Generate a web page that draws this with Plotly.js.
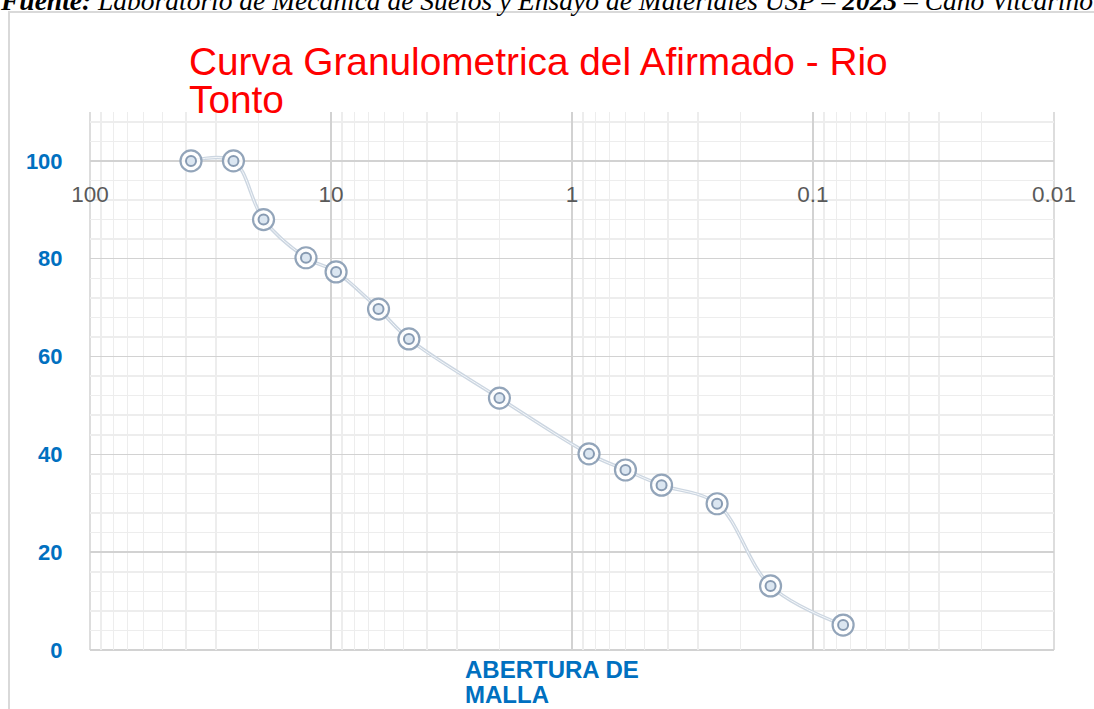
<!DOCTYPE html>
<html>
<head>
<meta charset="utf-8">
<script src="https://cdn.plot.ly/plotly-3.0.1.min.js"></script>
<style>
html,body{margin:0;padding:0;background:#fff;}
#chart{width:1094px;height:709px;}
</style>
</head>
<body>
<div id="chart"></div>
<script>
// Abertura de malla (mm) and % que pasa
const aberturaMM = [38.1, 25.4, 19.05, 12.7, 9.525, 6.35, 4.75, 2.0, 0.85, 0.6, 0.425, 0.25, 0.15, 0.075];
const pasaPct = [100, 100, 88.0, 80.2, 77.3, 69.7, 63.6, 51.5, 40.1, 36.8, 33.7, 29.9, 13.1, 5.1];

const xTickVals = [100, 10, 1, 0.1, 0.01];
const xTickText = ['100', '10', '1', '0.1', '0.01'];
const yTickVals = [0, 20, 40, 60, 80, 100];

const titleLine1 = 'Curva Granulometrica del Afirmado - Rio';
const titleLine2 = 'Tonto';
const xTitleLine1 = 'ABERTURA DE';
const xTitleLine2 = 'MALLA';
const sourceText = '<b>Fuente:</b> Laboratorio de Mecanica de Suelos y Ensayo de Materiales USP – <b>2023</b> – Caño Vitcarino';

const W = 1094, H = 709;
const L = 90, R = 40, T = 112, B = 59;
const pw = W - L - R, ph = H - T - B;
const px = v => (v - L) / pw;            // pixel x -> paper x
const py = v => (H - B - v) / ph;        // pixel y -> paper y

const lineOuter = {
  x: aberturaMM, y: pasaPct, type: 'scatter', mode: 'lines',
  line: {shape: 'spline', smoothing: 1, color: '#ccd6e1', width: 3.5},
  hoverinfo: 'skip', showlegend: false
};
const lineInner = {
  x: aberturaMM, y: pasaPct, type: 'scatter', mode: 'lines',
  line: {shape: 'spline', smoothing: 1, color: '#f4f7fa', width: 1},
  hoverinfo: 'skip', showlegend: false
};
const markOuter = {
  x: aberturaMM, y: pasaPct, type: 'scatter', mode: 'markers',
  marker: {symbol: 'circle', size: 21, color: 'rgba(255,255,255,0.85)',
           line: {color: 'rgba(135,155,178,0.9)', width: 2.2}},
  showlegend: false
};
const markInner = {
  x: aberturaMM, y: pasaPct, type: 'scatter', mode: 'markers',
  marker: {symbol: 'circle', size: 10, color: 'rgba(215,227,240,0.9)',
           line: {color: 'rgba(130,150,174,0.95)', width: 2}},
  showlegend: false
};

const layout = {
  width: W, height: H,
  margin: {l: L, r: R, t: T, b: B, pad: 0},
  paper_bgcolor: '#ffffff', plot_bgcolor: '#ffffff',
  font: {family: '"Liberation Sans", Arial, sans-serif'},
  showlegend: false,
  xaxis: {
    type: 'log', range: [2, -2], autorange: false,
    anchor: 'free', position: py(178),
    tickmode: 'array', tickvals: xTickVals, ticktext: xTickText,
    ticks: '', showline: false, zeroline: false,
    tickfont: {size: 22.5, color: '#595959', family: '"Liberation Sans", Arial, sans-serif'},
    showgrid: true, gridcolor: '#d2d2d2', gridwidth: 1.5,
    minor: {dtick: 'D1', showgrid: true, gridcolor: '#ededed', gridwidth: 1.5, ticks: ''}
  },
  yaxis: {
    range: [0, 110], autorange: false,
    tickmode: 'array', tickvals: yTickVals,
    ticks: 'outside', ticklen: 22, tickcolor: 'rgba(0,0,0,0)',
    showline: false, zeroline: false,
    tickfont: {size: 22, color: '#0070C0', weight: 'bold', family: '"Liberation Sans", Arial, sans-serif'},
    showgrid: true, gridcolor: '#d2d2d2', gridwidth: 1.5,
    minor: {dtick: 4, tick0: 0, showgrid: true, gridcolor: '#ededed', gridwidth: 1.5, ticks: ''}
  },
  shapes: [
    {type: 'line', xref: 'paper', yref: 'paper', x0: 0, x1: 0, y0: 0, y1: 1, line: {color: '#d2d2d2', width: 1.5}, layer: 'below'},
    {type: 'line', xref: 'paper', yref: 'paper', x0: 1, x1: 1, y0: 0, y1: 1, line: {color: '#d2d2d2', width: 1.5}, layer: 'below'},
    {type: 'line', xref: 'paper', yref: 'paper', x0: 0, x1: 1, y0: 0, y1: 0, line: {color: '#d2d2d2', width: 2}, layer: 'below'},
    {type: 'rect', xref: 'paper', yref: 'paper', x0: px(9), x1: px(1110), y0: py(730), y1: py(12), line: {color: '#d9d9d9', width: 2}, fillcolor: 'rgba(0,0,0,0)', layer: 'below'}
  ],
  annotations: [
    {text: sourceText, xref: 'paper', yref: 'paper', x: px(-2), y: py(1), xanchor: 'left', yanchor: 'middle', showarrow: false,
     font: {family: '"Liberation Serif", "Times New Roman", serif', size: 27.5, color: '#000', style: 'italic'}},
    {text: titleLine1, xref: 'paper', yref: 'paper', x: px(187), y: py(61), xanchor: 'left', yanchor: 'middle', showarrow: false,
     font: {size: 38.8, color: '#FF0000'}},
    {text: titleLine2, xref: 'paper', yref: 'paper', x: px(187), y: py(100), xanchor: 'left', yanchor: 'middle', showarrow: false,
     font: {size: 38.8, color: '#FF0000'}},
    {text: xTitleLine1, xref: 'paper', yref: 'paper', x: px(463), y: py(669), xanchor: 'left', yanchor: 'middle', showarrow: false,
     font: {size: 24, color: '#0070C0', weight: 'bold'}},
    {text: xTitleLine2, xref: 'paper', yref: 'paper', x: px(463), y: py(694), xanchor: 'left', yanchor: 'middle', showarrow: false,
     font: {size: 24, color: '#0070C0', weight: 'bold'}}
  ]
};

Plotly.newPlot('chart', [lineOuter, lineInner, markOuter, markInner], layout, {displayModeBar: false, staticPlot: true});
</script>
</body>
</html>
